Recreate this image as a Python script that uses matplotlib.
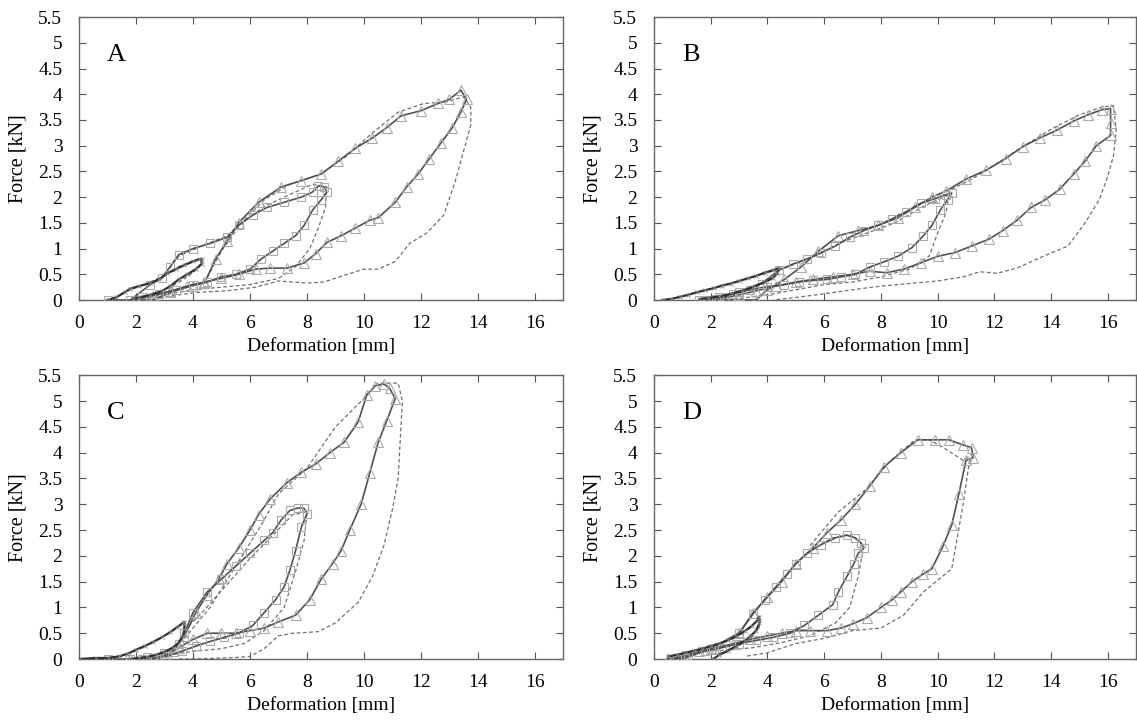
import matplotlib
matplotlib.use("Agg")
import matplotlib.pyplot as plt
import numpy as np

plt.rcParams['font.family'] = ['Liberation Serif', 'DejaVu Serif']

# ---- Panel A (deformation mm, force kN) ----
A_small = [(1.0, 0.0), (1.3, 0.05), (1.6, 0.15), (1.8, 0.22), (2.1, 0.27), (2.5, 0.33),
           (2.8, 0.4), (3.1, 0.52), (3.4, 0.6), (3.7, 0.68), (4.0, 0.75), (4.2, 0.79), (4.3, 0.8),
           (4.3, 0.7), (4.1, 0.6), (3.8, 0.5), (3.5, 0.4), (3.2, 0.27), (2.9, 0.17),
           (2.5, 0.1), (2.1, 0.05), (1.9, 0.02)]
A_small_m = [(1.1, 0.0), (1.7, 0.18), (2.3, 0.3), (2.9, 0.45), (3.5, 0.65), (4.0, 0.76), (4.3, 0.8),
             (4.2, 0.62), (3.8, 0.45), (3.3, 0.28), (2.8, 0.15), (2.2, 0.06), (1.9, 0.02)]
A_mid = [(1.0, 0.0), (1.8, 0.0), (2.5, 0.3), (2.9, 0.42), (3.2, 0.65), (3.5, 0.88),
         (4.0, 1.0), (4.6, 1.1), (5.2, 1.22), (5.6, 1.45), (6.1, 1.65), (6.6, 1.8), (7.2, 1.9),
         (7.8, 2.0), (8.2, 2.1), (8.4, 2.22), (8.6, 2.2), (8.7, 2.1), (8.5, 1.95), (8.2, 1.75),
         (7.9, 1.45), (7.6, 1.25), (7.2, 1.1), (6.8, 0.95), (6.4, 0.8), (6.0, 0.6), (5.5, 0.5),
         (5.0, 0.45), (4.5, 0.35), (4.0, 0.3), (3.4, 0.2), (2.8, 0.12), (2.2, 0.05), (1.8, 0.0)]
A_mid_m = [(2.9, 0.42), (3.5, 0.85), (4.3, 1.05), (5.2, 1.25), (5.7, 1.5), (6.5, 1.82),
           (7.4, 2.05), (8.2, 2.25), (8.7, 2.2), (8.65, 1.8), (8.4, 1.4), (8.1, 1.0),
           (7.6, 0.65), (7.0, 0.42), (6.0, 0.3), (5.0, 0.25), (4.0, 0.2), (3.0, 0.1), (2.2, 0.03)]
A_big = [(2.0, 0.0), (2.6, 0.0), (3.2, 0.15), (4.0, 0.28), (4.4, 0.33), (4.8, 0.8),
         (5.2, 1.15), (5.6, 1.5), (6.3, 1.9), (7.1, 2.2), (7.8, 2.32), (8.5, 2.45),
         (9.1, 2.7), (9.7, 2.95), (10.3, 3.15), (10.8, 3.35), (11.3, 3.58), (12.0, 3.68),
         (12.6, 3.82), (13.0, 3.9), (13.4, 4.08), (13.6, 3.9), (13.4, 3.65), (13.1, 3.35),
         (12.7, 3.05), (12.3, 2.75), (11.9, 2.45), (11.5, 2.2), (11.1, 1.9), (10.5, 1.6),
         (10.2, 1.55), (9.7, 1.4), (9.2, 1.25), (8.7, 1.12), (8.3, 0.9), (7.9, 0.72),
         (7.3, 0.62), (6.7, 0.62), (6.2, 0.6), (5.6, 0.5), (5.0, 0.42), (4.4, 0.35),
         (3.8, 0.27), (3.2, 0.17), (2.6, 0.08), (2.0, 0.02)]
A_big_m = [(4.4, 0.33), (5.0, 0.95), (5.7, 1.5), (6.5, 1.95), (7.4, 2.25), (8.5, 2.45),
           (9.4, 2.8), (10.3, 3.25), (11.2, 3.65), (12.1, 3.82), (12.9, 3.85), (13.5, 3.95),
           (13.75, 3.75), (13.75, 3.4), (13.5, 2.9), (13.2, 2.3), (12.8, 1.65), (12.2, 1.3),
           (11.6, 1.1), (11.1, 0.75), (10.5, 0.6), (10.0, 0.6), (9.3, 0.48), (8.6, 0.35),
           (8.0, 0.33), (7.0, 0.37), (6.2, 0.25), (5.2, 0.18), (4.2, 0.15), (3.2, 0.08), (2.4, 0.02)]

# ---- Panel B ----
B_small = [(0.3, 0.0), (0.6, 0.02), (0.9, 0.06), (1.2, 0.1), (1.5, 0.15), (1.8, 0.19),
           (2.1, 0.23), (2.4, 0.28), (2.7, 0.32), (3.0, 0.37), (3.3, 0.42), (3.6, 0.47),
           (3.9, 0.53), (4.2, 0.58), (4.4, 0.62), (4.35, 0.52), (4.2, 0.43), (3.9, 0.35),
           (3.5, 0.26), (3.1, 0.18), (2.7, 0.12), (2.3, 0.07), (1.9, 0.04), (1.6, 0.02)]
B_small_m = [(0.4, 0.0), (1.2, 0.1), (2.0, 0.22), (2.8, 0.34), (3.6, 0.47), (4.4, 0.6),
             (4.3, 0.47), (3.9, 0.32), (3.3, 0.2), (2.6, 0.1), (2.0, 0.04), (1.6, 0.0)]
B_mid = [(1.6, 0.0), (1.9, 0.0), (2.2, 0.02), (3.0, 0.15), (3.8, 0.32), (4.4, 0.58),
         (4.9, 0.7), (5.4, 0.8), (5.9, 0.92), (6.4, 1.05), (6.9, 1.22), (7.4, 1.35),
         (7.9, 1.45), (8.4, 1.58), (8.9, 1.72), (9.4, 1.88), (9.9, 1.97), (10.3, 2.05),
         (10.5, 2.08), (10.35, 1.95), (10.1, 1.75), (9.8, 1.45), (9.5, 1.25), (9.1, 1.02),
         (8.6, 0.85), (8.1, 0.74), (7.6, 0.64), (7.1, 0.5), (6.6, 0.45), (6.1, 0.4),
         (5.6, 0.38), (5.1, 0.35), (4.6, 0.3), (4.0, 0.26), (3.4, 0.2), (2.8, 0.12),
         (2.3, 0.05), (1.8, 0.0)]
B_mid_m = [(4.4, 0.58), (5.5, 0.8), (6.6, 1.12), (7.6, 1.32), (8.5, 1.5), (9.5, 1.82),
           (10.4, 2.05), (10.3, 1.7), (10.0, 1.3), (9.7, 0.85), (9.0, 0.6), (8.0, 0.45),
           (7.0, 0.35), (6.0, 0.3), (5.0, 0.2), (4.0, 0.1), (3.0, 0.03)]
B_big = [(2.2, 0.0), (2.9, 0.0), (3.6, 0.0), (4.0, 0.2), (4.6, 0.4), (5.2, 0.65),
         (5.8, 0.95), (6.5, 1.25), (7.2, 1.35), (7.9, 1.45), (8.6, 1.6), (9.2, 1.8),
         (9.8, 2.0), (10.3, 2.12), (11.0, 2.35), (11.7, 2.52), (12.4, 2.75), (13.0, 2.98),
         (13.6, 3.15), (14.2, 3.3), (14.8, 3.48), (15.3, 3.6), (15.8, 3.7), (16.1, 3.72),
         (16.1, 3.45), (16.1, 3.2), (15.6, 3.0), (15.2, 2.7), (14.8, 2.45), (14.3, 2.15),
         (13.8, 1.95), (13.3, 1.8), (12.8, 1.55), (12.3, 1.35), (11.8, 1.18), (11.2, 1.05),
         (10.6, 0.92), (10.0, 0.85), (9.4, 0.72), (8.8, 0.6), (8.2, 0.53), (7.6, 0.56),
         (7.0, 0.5), (6.3, 0.45), (5.6, 0.4), (5.0, 0.35), (4.3, 0.27), (3.6, 0.18),
         (3.0, 0.1), (2.5, 0.04), (2.2, 0.0)]
B_big_m = [(10.3, 2.1), (11.2, 2.35), (12.0, 2.62), (13.0, 2.98), (14.0, 3.32), (15.0, 3.6),
           (15.8, 3.75), (16.2, 3.78), (16.3, 3.3), (16.2, 2.8), (16.0, 2.4), (15.7, 1.95),
           (15.2, 1.5), (14.6, 1.05), (13.6, 0.82), (12.8, 0.62), (12.1, 0.52), (11.5, 0.55),
           (10.9, 0.45), (10.0, 0.37), (9.0, 0.32), (8.0, 0.27), (7.0, 0.2), (6.0, 0.12),
           (5.0, 0.05), (4.2, 0.0)]

# ---- Panel C ----
C_small = [(0.0, 0.0), (0.6, 0.02), (1.0, 0.02), (1.4, 0.05), (1.7, 0.1), (2.0, 0.18),
           (2.3, 0.25), (2.6, 0.33), (2.9, 0.42), (3.2, 0.52), (3.45, 0.62), (3.65, 0.7),
           (3.7, 0.72), (3.7, 0.58), (3.65, 0.45), (3.5, 0.32), (3.3, 0.22), (3.0, 0.14),
           (2.7, 0.08), (2.4, 0.04), (2.1, 0.02), (1.8, 0.0)]
C_small_m = [(0.2, 0.0), (1.3, 0.04), (2.0, 0.16), (2.7, 0.35), (3.3, 0.55), (3.7, 0.7),
             (3.65, 0.45), (3.4, 0.25), (3.0, 0.12), (2.5, 0.05), (2.0, 0.02)]
C_mid = [(1.0, 0.0), (1.8, 0.0), (2.4, 0.04), (3.0, 0.12), (3.5, 0.3), (3.7, 0.5),
         (4.0, 0.9), (4.5, 1.3), (5.0, 1.55), (5.5, 1.8), (6.0, 2.05), (6.5, 2.3),
         (6.8, 2.45), (7.1, 2.7), (7.4, 2.88), (7.7, 2.93), (7.9, 2.92), (8.0, 2.82),
         (7.8, 2.55), (7.6, 2.1), (7.4, 1.72), (7.2, 1.4), (6.9, 1.15), (6.5, 0.9),
         (6.1, 0.65), (5.6, 0.5), (5.1, 0.42), (4.6, 0.34), (4.1, 0.25), (3.6, 0.15),
         (3.1, 0.06), (2.6, 0.02), (2.2, 0.0)]
C_mid_m = [(3.7, 0.55), (4.4, 0.95), (5.2, 1.45), (6.0, 1.95), (6.8, 2.4), (7.5, 2.8),
           (8.0, 2.85), (7.9, 2.3), (7.6, 1.7), (7.2, 1.0), (6.5, 0.55), (5.8, 0.3),
           (5.0, 0.2), (4.0, 0.15), (3.2, 0.08)]
C_big = [(1.8, 0.0), (2.8, 0.0), (3.3, 0.15), (3.7, 0.45), (4.1, 0.9), (4.5, 1.25),
         (4.9, 1.55), (5.2, 1.85), (5.6, 2.15), (6.0, 2.5), (6.3, 2.8), (6.7, 3.1),
         (7.3, 3.42), (7.8, 3.62), (8.3, 3.78), (8.8, 4.0), (9.3, 4.2), (9.8, 4.6),
         (10.1, 5.12), (10.4, 5.3), (10.7, 5.33), (10.9, 5.25), (11.1, 5.05), (10.8, 4.62),
         (10.5, 4.2), (10.2, 3.6), (9.9, 3.0), (9.5, 2.5), (9.2, 2.1), (8.9, 1.85),
         (8.5, 1.55), (8.1, 1.15), (7.6, 0.85), (7.0, 0.72), (6.5, 0.6), (6.0, 0.55),
         (5.5, 0.5), (5.0, 0.5), (4.5, 0.5), (4.0, 0.38), (3.5, 0.22), (3.0, 0.08), (2.6, 0.0)]
C_big_m = [(3.7, 0.4), (4.6, 1.0), (5.5, 1.8), (6.4, 2.6), (7.0, 3.2), (8.0, 3.7),
           (9.0, 4.5), (10.0, 5.05), (10.5, 5.35), (11.2, 5.35), (11.35, 5.0), (11.3, 4.5),
           (11.2, 3.5), (11.0, 2.9), (10.7, 2.2), (10.3, 1.6), (9.8, 1.1), (9.0, 0.7),
           (8.4, 0.53), (7.5, 0.5), (7.0, 0.45), (6.5, 0.2), (6.0, 0.05), (5.5, 0.03),
           (4.5, 0.01), (3.5, 0.0)]

# ---- Panel D ----
D_small = [(0.5, 0.05), (0.8, 0.08), (1.1, 0.12), (1.4, 0.16), (1.7, 0.2), (2.0, 0.25),
           (2.3, 0.3), (2.6, 0.36), (2.9, 0.44), (3.2, 0.54), (3.45, 0.64), (3.65, 0.75),
           (3.7, 0.82), (3.72, 0.7), (3.6, 0.55), (3.4, 0.44), (3.2, 0.35), (2.9, 0.25),
           (2.6, 0.16), (2.3, 0.08), (2.1, 0.0)]
D_small_m = [(0.6, 0.06), (1.5, 0.16), (2.4, 0.3), (3.1, 0.5), (3.6, 0.72), (3.75, 0.8),
             (3.7, 0.6), (3.4, 0.4), (2.9, 0.22), (2.4, 0.1), (2.1, 0.02)]
D_mid = [(0.8, 0.0), (1.1, 0.02), (2.0, 0.2), (3.0, 0.5), (3.5, 0.88), (3.9, 1.15),
         (4.3, 1.4), (4.7, 1.65), (5.0, 1.85), (5.4, 2.05), (5.9, 2.22), (6.4, 2.35),
         (6.8, 2.4), (7.1, 2.35), (7.3, 2.25), (7.4, 2.15), (7.2, 2.05), (7.05, 1.85),
         (6.8, 1.6), (6.5, 1.3), (6.3, 1.05), (5.8, 0.85), (5.3, 0.65), (4.8, 0.5),
         (4.2, 0.42), (3.6, 0.36), (3.0, 0.3), (2.4, 0.22), (1.8, 0.15), (1.2, 0.08), (0.8, 0.02)]
D_mid_m = [(5.5, 2.1), (6.3, 2.35), (6.9, 2.42), (7.4, 2.2), (7.2, 1.6), (6.9, 1.0),
           (6.4, 0.7), (5.5, 0.45), (4.5, 0.32), (3.5, 0.22), (2.5, 0.17), (1.8, 0.15)]
D_big = [(0.5, 0.0), (0.9, 0.0), (2.0, 0.2), (3.0, 0.5), (3.5, 0.9), (4.0, 1.2),
         (4.5, 1.5), (5.0, 1.85), (5.6, 2.15), (6.1, 2.45), (6.6, 2.7), (7.1, 3.0),
         (7.6, 3.35), (8.1, 3.72), (8.7, 4.0), (9.3, 4.25), (9.9, 4.25), (10.4, 4.25),
         (10.9, 4.15), (11.2, 4.1), (11.25, 3.9), (11.0, 3.85), (10.75, 3.2), (10.5, 2.6),
         (10.2, 2.2), (9.8, 1.75), (9.5, 1.65), (9.1, 1.5), (8.7, 1.3), (8.4, 1.15),
         (8.0, 1.0), (7.5, 0.8), (7.0, 0.68), (6.6, 0.6), (6.1, 0.55), (5.5, 0.55),
         (5.0, 0.55), (4.5, 0.5), (4.0, 0.45), (3.4, 0.38), (2.8, 0.3), (2.2, 0.22),
         (1.6, 0.15), (1.0, 0.06), (0.5, 0.0)]
D_big_m = [(5.5, 2.2), (6.5, 2.85), (7.5, 3.3), (8.3, 3.82), (9.2, 4.25), (9.7, 4.25),
           (10.2, 4.1), (10.9, 3.85), (11.3, 4.0), (11.1, 3.75), (10.9, 3.0), (10.5, 1.75),
           (9.5, 1.3), (8.8, 0.85), (8.0, 0.6), (7.0, 0.55), (6.0, 0.4), (5.0, 0.3),
           (4.0, 0.12), (3.2, 0.05)]

panel_letters = ['A', 'B', 'C', 'D']
panel_data = {
    'A': (A_small, A_small_m, A_mid, A_mid_m, A_big, A_big_m),
    'B': (B_small, B_small_m, B_mid, B_mid_m, B_big, B_big_m),
    'C': (C_small, C_small_m, C_mid, C_mid_m, C_big, C_big_m),
    'D': (D_small, D_small_m, D_mid, D_mid_m, D_big, D_big_m),
}

x_ticks = np.arange(0, 17, 2)
y_ticks = np.arange(0, 5.51, 0.5)
y_ticklabels = ['%g' % v for v in y_ticks]

line_col = '#505050'
mark_col = '#aaaaaa'
dash_col = '#707070'

fig = plt.figure(figsize=(11.37, 7.2), dpi=100)
# axes boxes in figure fractions (left, bottom, width, height)
positions = [
    [0.0695, 0.5833, 0.4260, 0.393],
    [0.5752, 0.5833, 0.4240, 0.393],
    [0.0695, 0.0847, 0.4260, 0.394],
    [0.5752, 0.0847, 0.4240, 0.394],
]


def xy(points):
    arr = np.array(points)
    return arr[:, 0], arr[:, 1]


for letter, pos in zip(panel_letters, positions):
    ax = fig.add_axes(pos)
    small, small_m, mid, mid_m, big, big_m = panel_data[letter]

    # model curves (dashed)
    for pts in (big_m, mid_m, small_m):
        x, y = xy(pts)
        ax.plot(x, y, color=dash_col, lw=0.9, dashes=(3, 2), zorder=2)

    # experimental loops
    x, y = xy(big)
    ax.plot(x, y, color=line_col, lw=1.2, marker='^', markersize=7,
            markerfacecolor='none', markeredgecolor=mark_col, markeredgewidth=0.8, zorder=3)
    x, y = xy(mid)
    ax.plot(x, y, color=line_col, lw=1.2, marker='s', markersize=6,
            markerfacecolor='none', markeredgecolor=mark_col, markeredgewidth=0.8, zorder=3)
    x, y = xy(small)
    ax.plot(x, y, color='#303030', lw=1.6, marker='x', markersize=3,
            markeredgecolor='#888888', markeredgewidth=0.6, zorder=4)

    ax.set_xlim(0, 17)
    ax.set_ylim(0, 5.5)
    ax.set_xticks(x_ticks)
    ax.set_yticks(y_ticks)
    ax.set_yticklabels(y_ticklabels)
    ax.tick_params(direction='in', top=True, right=True, length=5, width=0.8,
                   color='#555555', labelsize=14)
    ax.tick_params(axis='x', pad=11)
    ax.tick_params(axis='y', pad=12)
    for sp in ax.spines.values():
        sp.set_color('#666666')
        sp.set_linewidth(1.0)
    ax.set_xlabel('Deformation [mm]', fontsize=14)
    ax.set_ylabel('Force [kN]', fontsize=14.5)
    ax.xaxis.set_label_coords(0.5, -0.135)
    ax.yaxis.set_label_coords(-0.107, 0.5)
    ax.text(0.058, 0.866, letter, transform=ax.transAxes, fontsize=19, va='center', ha='left')

fig.savefig('out.png', dpi=100)
